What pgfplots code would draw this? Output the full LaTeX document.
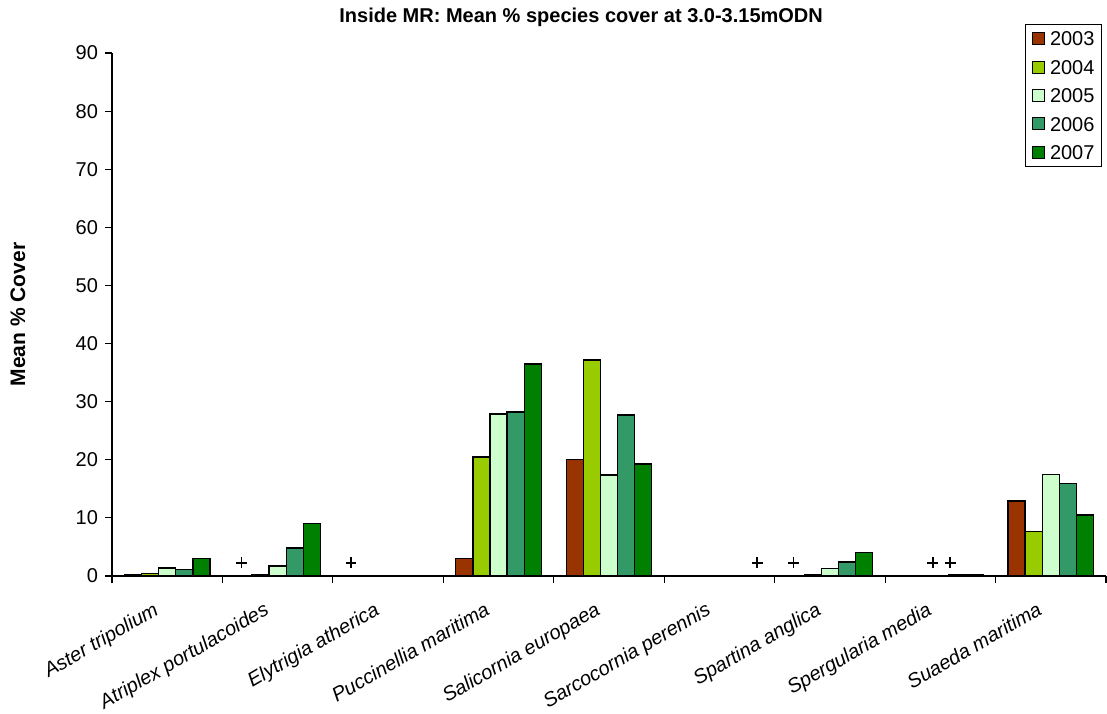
\documentclass[border=0pt]{standalone}
\usepackage{fontspec}
\setmainfont{Liberation Sans}
\usepackage{pgfplots}
\pgfplotsset{compat=1.18}
\definecolor{yr2003}{HTML}{993300}
\definecolor{yr2004}{HTML}{99CC00}
\definecolor{yr2005}{HTML}{CCFFCC}
\definecolor{yr2006}{HTML}{339966}
\definecolor{yr2007}{HTML}{008000}
\pgfplotsset{
  yearbar/.style={ybar, bar width=0.155, draw=black, line width=0.7pt, fill=#1,
    legend image code/.code={\draw[fill=#1,draw=black,line width=0.5pt] (0pt,-3pt) rectangle (6pt,3pt);}},
}
\begin{document}
\begin{tikzpicture}
\useasboundingbox (-56pt,-68.5pt) rectangle (497.5pt,288pt);
\begin{axis}[
    scale only axis,
    width=497pt, height=261.5pt,
    xmin=-0.5, xmax=8.5, ymin=0, ymax=90,
    axis x line*=bottom, axis y line*=left,
    axis line style={-, line width=0.6pt},
    ytick={0,10,...,90},
    xtick={0,...,8},
    xticklabels={Aster tripolium, Atriplex portulacoides, Elytrigia atherica,
      Puccinellia maritima, Salicornia europaea, Sarcocornia perennis,
      Spartina anglica, Spergularia media, Suaeda maritima},
    major x tick style={draw=none},
    minor xtick={-0.5,0.5,...,8.5},
    tick align=outside,
    major tick length=3.5pt, minor tick length=3.5pt,
    tick style={black, line width=0.6pt},
    /pgf/number format/assume math mode=true,
    yticklabel style={font=\fontsize{10}{12}\selectfont},
    xticklabel style={xshift=-7pt, yshift=-7.5pt, rotate=30, anchor=north east,
      font=\fontsize{10}{12}\selectfont\itshape, inner sep=1pt},
    ylabel={\bfseries Mean \% Cover},
    ylabel style={font=\fontsize{10.5}{12}\selectfont, at={(axis description cs:-0.0946,0.5)}, anchor=center},
    title={\bfseries Inside MR: Mean \% species cover at 3.0-3.15mODN},
    title style={font=\fontsize{10}{12}\selectfont, at={(axis description cs:0.472,1)}, anchor=base, yshift=9.5pt},
    legend style={at={(axis description cs:1,1)}, anchor=north east, xshift=-2pt, yshift=14.5pt,
      draw=black, line width=0.5pt, font=\fontsize{10}{12}\selectfont,
      inner xsep=3.5pt, inner ysep=3.5pt, row sep=7pt,
      nodes={inner sep=0pt, text height=7.2pt, text depth=0pt},
      /tikz/every odd column/.append style={column sep=2.5pt},
      cells={anchor=west}},
    clip=false,
]
\addplot[yearbar=yr2003, bar shift=-0.31] coordinates {
  (0,0.3) (1,0.1) (3,3.0) (4,20.1) (6,0.1) (8,12.9)};
\addlegendentry{2003}
\addplot[yearbar=yr2004, bar shift=-0.155] coordinates {
  (0,0.45) (1,0.2) (3,20.5) (4,37.2) (6,0.2) (8,7.7)};
\addlegendentry{2004}
\addplot[yearbar=yr2005, bar shift=0] coordinates {
  (0,1.4) (1,1.7) (3,27.9) (4,17.4) (6,1.3) (7,0.1) (8,17.5)};
\addlegendentry{2005}
\addplot[yearbar=yr2006, bar shift=0.155] coordinates {
  (0,1.15) (1,4.8) (3,28.2) (4,27.7) (6,2.4) (7,0.15) (8,15.9)};
\addlegendentry{2006}
\addplot[yearbar=yr2007, bar shift=0.31] coordinates {
  (0,3.0) (1,9.0) (3,36.5) (4,19.3) (6,4.0) (7,0.3) (8,10.5)};
\addlegendentry{2007}
% "+" = species present at trace cover
\addplot[only marks, mark=+, mark size=2.7pt, black, line width=0.9pt, forget plot] coordinates {
  (0.673,2.3) (1.664,2.3) (5.343,2.3) (5.67,2.3) (6.93,2.3) (7.09,2.3)};
\end{axis}
\end{tikzpicture}
\end{document}
